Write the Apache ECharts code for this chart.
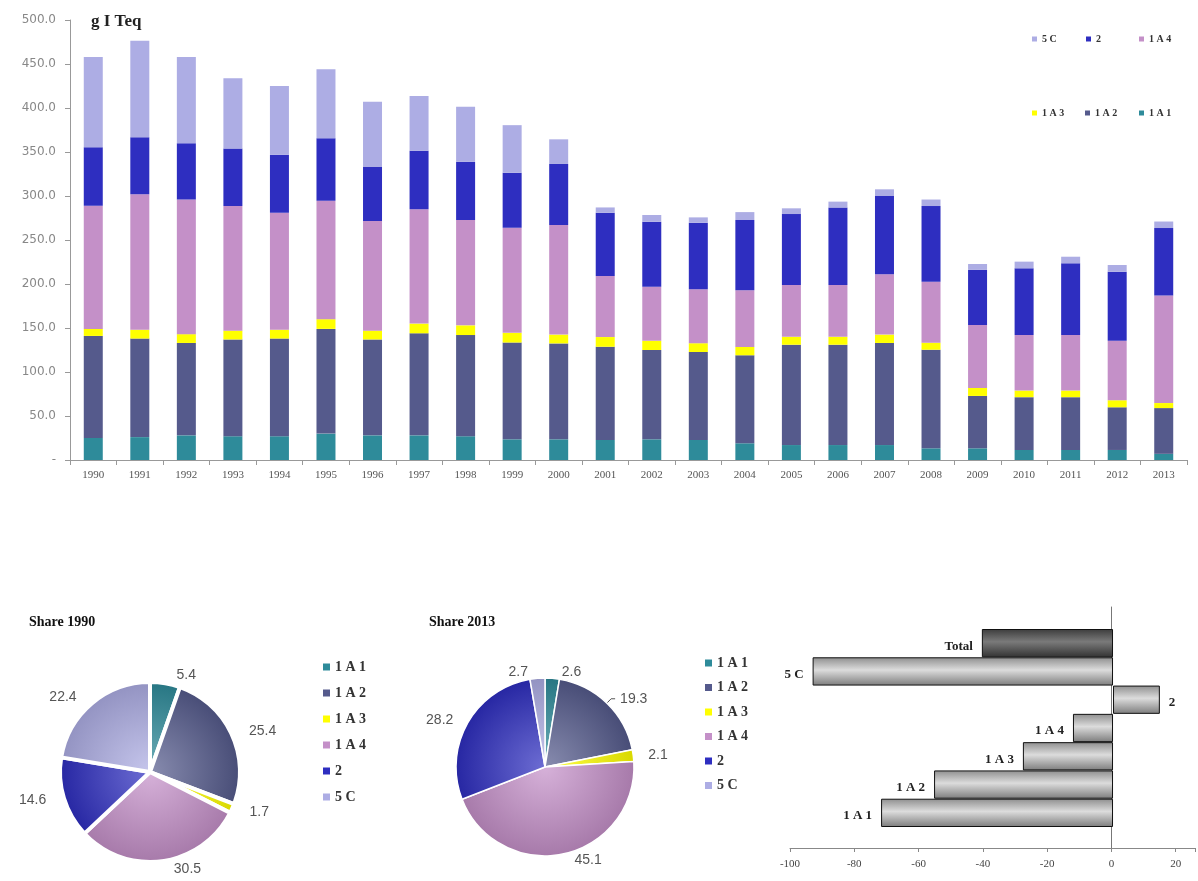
<!DOCTYPE html>
<html>
<head>
<meta charset="utf-8">
<script src="https://cdn.jsdelivr.net/npm/echarts@6/dist/echarts.min.js"></script>
<style>
html,body{margin:0;padding:0;background:#fff;}
#chart{width:1198px;height:881px;}
</style>
</head>
<body>
<div id="chart"></div>
<script>
// ---------- DATA ----------
const years = ['1990','1991','1992','1993','1994','1995','1996','1997','1998','1999','2000','2001','2002','2003','2004','2005','2006','2007','2008','2009','2010','2011','2012','2013'];
const s1A1 = [25,26,28,27,27,30,28,28,27,23.5,23.5,22.7,23.5,22.7,19,17,17,17,13.3,13.3,11.4,11.4,11.4,7];
const s1A2 = [116,112,105,110,111,119,109,116,115,110,109,106,101.5,100,100,114,114,116,112,59.5,60,60,48.5,52];
const s1A3 = [8,10,10,10,10,11,10,11,11,11,10,11,10.5,10,9.5,9,9,9.5,8,9,7.5,7.5,8,5.7];
const s1A4 = [140,154,153,141.6,133,134.7,124.6,130,119.7,119.5,124.5,69.3,61.5,61.3,64.5,59,59,68.5,69.3,71.6,63.1,63.1,67.7,122.3];
const s2   = [66.5,64.7,64,65.4,66,70.8,61.4,66.5,66.3,62.5,69.4,72,73.8,75.7,79.7,80.5,88,89,86,62.6,75.8,81.5,78.4,76.6];
const s5C  = [102.5,109.8,98,79.7,78,78.5,74,62,62.5,54,28,6,7.6,6,9,6.5,6.6,7.6,7.4,6.7,7.6,7.5,7.6,7.4];

const sourceNames = ['1 A 1','1 A 2','1 A 3','1 A 4','2','5 C'];
const share1990 = [5.4,25.4,1.7,30.5,14.6,22.4];
const share2013 = [2.6,19.3,2.1,45.1,28.2,2.7];

const changeCats = ['1 A 1','1 A 2','1 A 3','1 A 4','2','5 C','Total'];
const changeVals = [-71.8,-55.4,-27.9,-12.4,14.5,-93,-40.6];

// ---------- STYLE ----------
const colors = ['#2E8B9A','#555A8C','#FFFF00','#C490C8','#2E2EC0','#ADADE4'];
const serif = '"Liberation Serif","Times New Roman",serif';
const sans = '"DejaVu Sans",Verdana,sans-serif';

function mix(hex, target, t){
  const a=[1,3,5].map(i=>parseInt(hex.substr(i,2),16));
  const b=[1,3,5].map(i=>parseInt(target.substr(i,2),16));
  return 'rgb('+a.map((v,i)=>Math.round(v+(b[i]-v)*t)).join(',')+')';
}
function radial(c, cx, cy, r){
  return {type:'radial', x:cx, y:cy, r:r, global:true,
    colorStops:[{offset:0,color:mix(c,'#ffffff',0.3)},{offset:1,color:mix(c,'#000000',0.15)}]};
}

const seriesData = [s1A1,s1A2,s1A3,s1A4,s2,s5C];
const barSeries = sourceNames.map((n,i)=>({
  name:n, type:'bar', stack:'total', xAxisIndex:0, yAxisIndex:0,
  barWidth:19, data:seriesData[i], itemStyle:{color:colors[i]}
}));

const pie1 = {cx:150, cy:772, r:90};
const pie2 = {cx:545, cy:767, r:89};

function pieData(vals, p, bw){
  return sourceNames.map((n,i)=>({name:n, value:vals[i],
    itemStyle:{color:radial(colors[i],p.cx,p.cy,p.r), borderColor:'#fff', borderWidth:bw}}));
}

const greyGrad = {type:'linear',x:0,y:0,x2:0,y2:1,colorStops:[{offset:0,color:'#8e8e8e'},{offset:0.45,color:'#dcdcdc'},{offset:1,color:'#7c7c7c'}]};
const darkGrad = {type:'linear',x:0,y:0,x2:0,y2:1,colorStops:[{offset:0,color:'#3c3c3c'},{offset:0.45,color:'#7a7a7a'},{offset:1,color:'#333333'}]};

const changeData = changeVals.map((v,i)=>({
  value:v,
  itemStyle:{color: changeCats[i]==='Total'?darkGrad:greyGrad},
  label:{position: v<0?'left':'right'}
}));

function topLegend(name, left, top){
  return {data:[name], left:left, top:top, icon:'rect', itemWidth:5, itemHeight:5, itemGap:4,
    selectedMode:false, textStyle:{fontFamily:serif, fontWeight:'bold', fontSize:10, color:'#333'}};
}

const option = {
  backgroundColor:'#fff',
  animation:false,
  title:[
    {text:'g I Teq', left:86, top:8, textStyle:{fontFamily:serif, fontWeight:'bold', fontSize:17, color:'#222'}},
    {text:'Share 1990', left:24, top:610, textStyle:{fontFamily:serif, fontWeight:'bold', fontSize:14, color:'#111'}},
    {text:'Share 2013', left:424, top:610, textStyle:{fontFamily:serif, fontWeight:'bold', fontSize:14, color:'#111'}}
  ],
  legend:[
    topLegend('5 C',1027,29), topLegend('2',1081,29), topLegend('1 A 4',1134,29),
    topLegend('1 A 3',1027,103), topLegend('1 A 2',1080,103), topLegend('1 A 1',1134,103),
    {data:sourceNames, orient:'vertical', left:318, top:655, itemGap:12, icon:'rect', itemWidth:7, itemHeight:7,
      selectedMode:false, textStyle:{fontFamily:serif, fontWeight:'bold', fontSize:14, color:'#333'}},
    {data:sourceNames, orient:'vertical', left:700, top:651, itemGap:10.5, icon:'rect', itemWidth:7, itemHeight:7,
      selectedMode:false, textStyle:{fontFamily:serif, fontWeight:'bold', fontSize:14, color:'#333'}}
  ],
  grid:[
    {left:70, top:20, right:11, height:440},
    {left:790, right:1, top:629, height:198},
    {left:790, right:1, top:607, height:241}
  ],
  xAxis:[
    {type:'category', gridIndex:0, data:years,
      axisLine:{lineStyle:{color:'#999'}}, axisTick:{show:true, length:5, lineStyle:{color:'#999'}},
      axisLabel:{fontFamily:serif, fontSize:11, color:'#555', margin:10}},
    {type:'value', gridIndex:1, min:-100, max:26, show:false, splitLine:{show:false}},
    {type:'value', gridIndex:2, min:-100, max:26, interval:20,
      axisLine:{lineStyle:{color:'#888'}}, axisTick:{show:true, length:4, lineStyle:{color:'#888'}},
      splitLine:{show:false},
      axisLabel:{fontFamily:serif, fontSize:11, color:'#444', margin:11,
        formatter:v=> (v%20===0 ? String(v) : '')}}
  ],
  yAxis:[
    {type:'value', gridIndex:0, min:0, max:500, interval:50,
      axisLine:{show:true, lineStyle:{color:'#999'}}, axisTick:{show:true, length:5, lineStyle:{color:'#999'}},
      splitLine:{show:false},
      axisLabel:{fontFamily:sans, fontSize:12, color:'#888', margin:14,
        formatter:v=> v===0 ? '-' : v.toFixed(1)}},
    {type:'category', gridIndex:1, data:changeCats, show:false},
    {type:'value', gridIndex:2, min:0, max:1, axisLine:{show:true, onZero:true, lineStyle:{color:'#777'}},
      axisTick:{show:false}, axisLabel:{show:false}, splitLine:{show:false}}
  ],
  series:[
    ...barSeries,
    {type:'pie', name:'Share 1990', center:[pie1.cx,pie1.cy], radius:pie1.r, startAngle:90, clockwise:true,
      data:pieData(share1990,pie1,4), avoidLabelOverlap:false,
      label:{show:true, position:'outside', formatter:'{c}', fontFamily:'"Liberation Sans",Arial,sans-serif', fontSize:14, color:'#555'},
      labelLine:{show:false, length:8, length2:5}},
    {type:'pie', name:'Share 2013', center:[pie2.cx,pie2.cy], radius:pie2.r, startAngle:90, clockwise:true,
      data:pieData(share2013,pie2,1.5).map((d,i)=> i===1 ? Object.assign(d,{labelLine:{show:true}}) : d),
      avoidLabelOverlap:false,
      label:{show:true, position:'outside', formatter:'{c}', fontFamily:'"Liberation Sans",Arial,sans-serif', fontSize:14, color:'#555'},
      labelLine:{show:false, length:6, length2:4, lineStyle:{color:'#555'}}},
    {type:'bar', name:'change', xAxisIndex:1, yAxisIndex:1, barCategoryGap:'0%',
      data:changeData,
      itemStyle:{borderColor:'#111', borderWidth:1},
      label:{show:true, formatter:p=>changeCats[p.dataIndex], distance:9, offset:[0,3],
        fontFamily:serif, fontWeight:'bold', fontSize:13, color:'#222'}}
  ]
};

const chart = echarts.init(document.getElementById('chart'));
chart.setOption(option);
</script>
</body>
</html>
